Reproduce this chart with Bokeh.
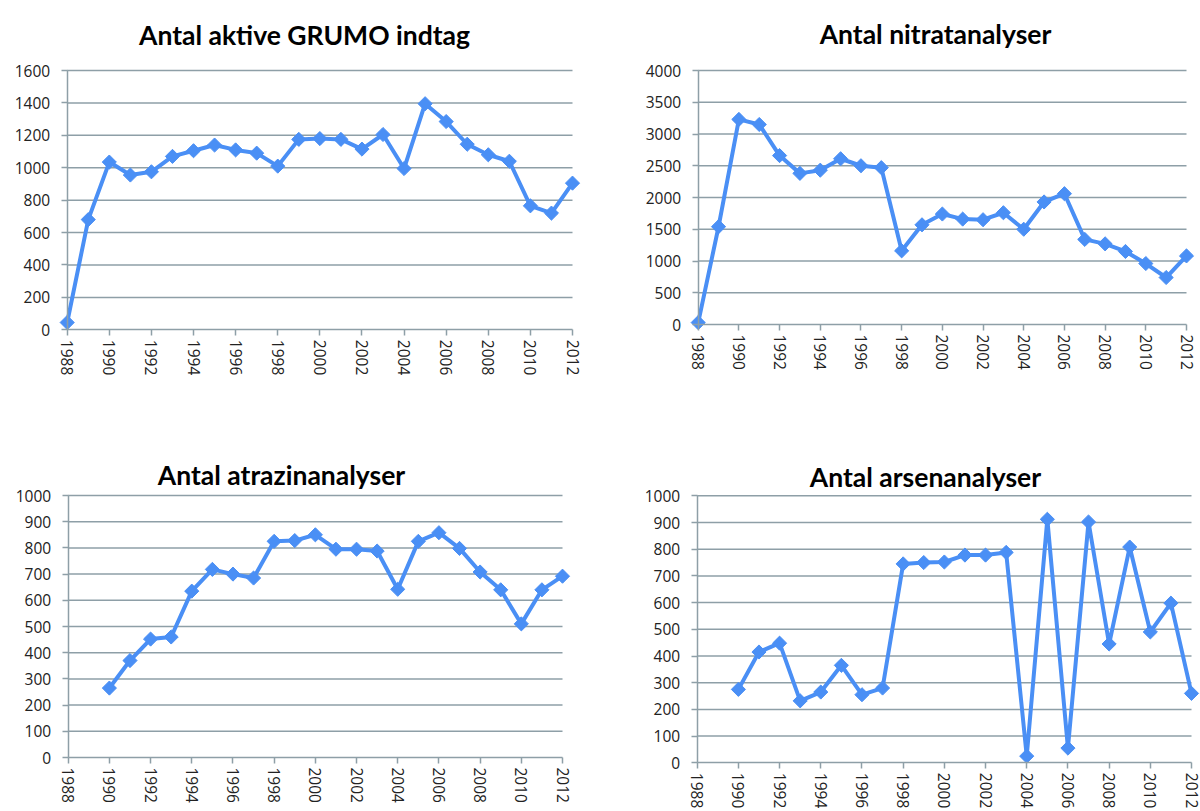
import math
from bokeh.plotting import figure
from bokeh.models import Range1d, FixedTicker, LinearAxis, Label
from bokeh.layouts import column, row
from bokeh.embed import file_html
from bokeh.resources import INLINE

# ---------------- data ----------------
year_ticks = list(range(1988, 2013, 2))

grumo_years = list(range(1988, 2013))
grumo_values = [45, 680, 1035, 955, 975, 1070, 1105, 1140, 1110, 1090, 1010, 1175,
                1180, 1175, 1115, 1205, 995, 1395, 1285, 1145, 1080, 1040, 765, 720, 905]

nitrat_years = list(range(1988, 2013))
nitrat_values = [30, 1540, 3230, 3150, 2660, 2380, 2430, 2610, 2500, 2470, 1160, 1570,
                 1740, 1660, 1650, 1760, 1500, 1930, 2060, 1340, 1270, 1150, 960, 740, 1080]

atrazin_years = list(range(1990, 2013))
atrazin_values = [265, 370, 452, 460, 635, 718, 700, 685, 825, 828, 850, 795,
                  795, 788, 642, 825, 858, 798, 708, 640, 510, 640, 692]

arsen_years = list(range(1990, 2013))
arsen_values = [275, 415, 448, 232, 265, 365, 255, 280, 745, 750, 752, 778,
                778, 788, 25, 912, 55, 902, 445, 808, 490, 598, 260]

grumo_yticks = list(range(0, 1601, 200))
nitrat_yticks = list(range(0, 4001, 500))
atrazin_yticks = list(range(0, 1001, 100))
arsen_yticks = list(range(0, 1001, 100))

titles = ["Antal aktive GRUMO indtag", "Antal nitratanalyser",
          "Antal atrazinanalyser", "Antal arsenanalyser"]

# ---------------- style ----------------
BLUE = "#4A8FF5"
GRID = "#8E9FA7"
TITLE_FONT = "Lato"
TICK_FONT = "Open Sans"
TICK_SIZE = "15.5px"


def make_panel(title, xs, ys, yticks, fig_x, fig_y, W, H, xa, xb, ytop, ybot, tcx, tby):
    """Whole canvas is the frame; axes sit at fixed data locations inside it."""
    x0, x1 = year_ticks[0], year_ticks[-1]
    ymin, ymax = yticks[0], yticks[-1]
    ax, bx = xa - fig_x, xb - fig_x
    ty, by = ytop - fig_y, ybot - fig_y
    xpp = (x1 - x0) / (bx - ax)
    ypp = (ymax - ymin) / (by - ty)
    xr = Range1d(x0 - ax * xpp, x1 + (W - bx) * xpp)
    yr = Range1d(ymin - (H - by) * ypp, ymax + ty * ypp)

    p = figure(width=W, height=H, x_range=xr, y_range=yr,
               output_backend="svg", toolbar_location=None,
               x_axis_type=None, y_axis_type=None,
               min_border_left=0, min_border_right=0,
               min_border_top=0, min_border_bottom=0)
    p.outline_line_color = None
    p.background_fill_color = "white"
    p.border_fill_color = "white"

    # horizontal grid lines from the y tick values
    gy = yticks[1:]
    p.segment(x0=[x0] * len(gy), x1=[x1] * len(gy), y0=gy, y1=gy,
              line_color=GRID, line_width=1.5, level="underlay")

    yaxis = LinearAxis(ticker=FixedTicker(ticks=yticks), fixed_location=x0,
                       bounds=(ymin, ymax),
                       major_label_text_font=TICK_FONT,
                       major_label_text_font_size=TICK_SIZE)
    xaxis = LinearAxis(ticker=FixedTicker(ticks=year_ticks), fixed_location=ymin,
                       bounds=(x0, x1), major_label_orientation="vertical",
                       major_label_text_font=TICK_FONT,
                       major_label_text_font_size=TICK_SIZE)
    for a, st in ((yaxis, 11), (xaxis, 4)):
        a.axis_line_color = GRID
        a.axis_line_width = 1.5
        a.major_tick_line_color = GRID
        a.major_tick_line_width = 1.5
        a.major_tick_in = 0
        a.major_tick_out = 6
        a.minor_tick_in = 0
        a.minor_tick_out = 0
        a.major_label_text_color = "#222222"
        a.major_label_standoff = st
    p.add_layout(yaxis, "left")
    p.add_layout(xaxis, "below")

    p.line(xs, ys, line_width=4, line_color=BLUE, line_join="round")
    p.scatter(xs, ys, marker="square", size=10, angle=math.pi / 4,
              fill_color=BLUE, line_color=BLUE)

    p.add_layout(Label(x=tcx - fig_x, y=tby - fig_y, x_units="canvas", y_units="canvas",
                       text=title, text_align="center", text_baseline="alphabetic",
                       text_font=TITLE_FONT, text_font_style="bold",
                       text_font_size="26.5px", text_color="#000000"))
    return p


p1 = make_panel(titles[0], grumo_years, grumo_values, grumo_yticks,
                0, 0, 600, 430, 66.7, 572, 70, 329.3, 304, 34)
p2 = make_panel(titles[1], nitrat_years, nitrat_values, nitrat_yticks,
                600, 0, 600, 430, 697.7, 1186, 70, 324, 935, 33)
p3 = make_panel(titles[2], atrazin_years, atrazin_values, atrazin_yticks,
                0, 430, 600, 381, 67.7, 562, 495, 757, 281, 474)
p4 = make_panel(titles[3], arsen_years, arsen_values, arsen_yticks,
                600, 430, 600, 381, 696.7, 1191, 495.3, 762.3, 925, 476)

layout = column(row(p1, p2), row(p3, p4))
open("out.html", "w").write(file_html(layout, INLINE))
